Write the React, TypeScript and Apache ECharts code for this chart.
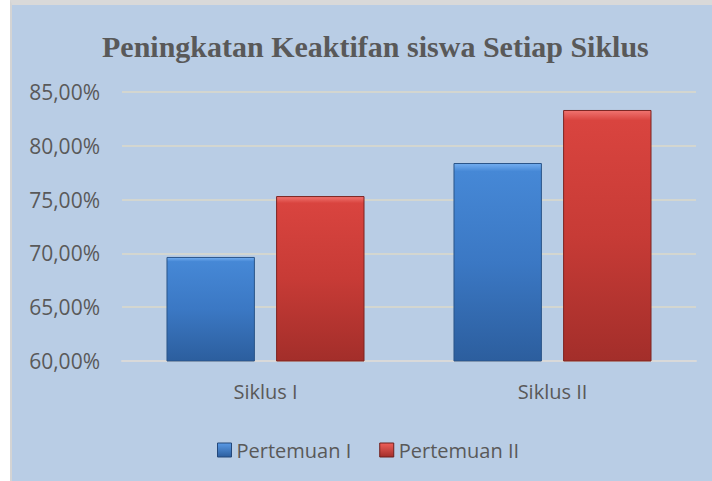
import React, { useEffect, useRef } from "react";
import * as echarts from "echarts";

const categories = ["Siklus I", "Siklus II"];
const seriesNames = ["Pertemuan I", "Pertemuan II"];
const pertemuanI = [69.67, 78.4];
const pertemuanII = [75.33, 83.33];
const titleText = "Peningkatan Keaktifan siswa Setiap Siklus";

const fmt = (v: number) => v.toFixed(2).replace(".", ",") + "%";

const blueGrad = new echarts.graphic.LinearGradient(0, 0, 0, 1, [
  { offset: 0, color: "#74aef0" },
  { offset: 0.04, color: "#4688d6" },
  { offset: 0.5, color: "#3b78c4" },
  { offset: 1, color: "#2c5e9e" },
]);
const redGrad = new echarts.graphic.LinearGradient(0, 0, 0, 1, [
  { offset: 0, color: "#f07470" },
  { offset: 0.04, color: "#d9443f" },
  { offset: 0.5, color: "#c73b36" },
  { offset: 1, color: "#a32e2a" },
]);
const blueIcon = new echarts.graphic.LinearGradient(0, 0, 0, 1, [
  { offset: 0, color: "#5a9ae6" },
  { offset: 1, color: "#2c5e9e" },
]);
const redIcon = new echarts.graphic.LinearGradient(0, 0, 0, 1, [
  { offset: 0, color: "#f0605a" },
  { offset: 1, color: "#a32e2a" },
]);

export default function App() {
  const ref = useRef<HTMLDivElement>(null);
  useEffect(() => {
    document.body.style.margin = "0";
    const chart = echarts.init(ref.current!, null, { renderer: "svg" });
    const font = "'Open Sans', sans-serif";
    chart.setOption({
      animation: false,
      title: {
        text: titleText,
        left: 85,
        top: 21,
        textStyle: {
          fontFamily: "'Liberation Serif', serif",
          fontWeight: "bold",
          fontSize: 30,
          color: "#595959",
        },
      },
      legend: {
        left: 200,
        top: 430,
        itemWidth: 14,
        itemHeight: 14,
        itemGap: 28,
        icon: "rect",
        textStyle: { fontFamily: font, fontSize: 20, color: "#595959" },
        data: [
          { name: seriesNames[0], itemStyle: { color: blueIcon, borderColor: "#24487a", borderWidth: 1 } },
          { name: seriesNames[1], itemStyle: { color: redIcon, borderColor: "#6e1f1c", borderWidth: 1 } },
        ],
      },
      grid: { left: 110, right: 16, top: 87, bottom: 120 },
      xAxis: {
        type: "category",
        data: categories,
        axisTick: { show: false },
        axisLine: { lineStyle: { color: "#d9d9d9", width: 2 } },
        axisLabel: { fontFamily: font, fontSize: 20, color: "#595959", margin: 20 },
      },
      yAxis: {
        type: "value",
        min: 60,
        max: 85,
        interval: 5,
        axisLine: { show: false },
        axisTick: { show: false },
        splitLine: { lineStyle: { color: "#dcd8c8", width: 1.5 } },
        axisLabel: {
          fontFamily: font,
          fontSize: 21,
          color: "#595959",
          margin: 22,
          formatter: (v: number) => fmt(v),
        },
      },
      series: [
        {
          name: seriesNames[0],
          type: "bar",
          data: pertemuanI,
          barGap: "24%",
          barCategoryGap: "31%",
          itemStyle: { color: blueGrad, borderColor: "#2a5488", borderWidth: 1 },
        },
        {
          name: seriesNames[1],
          type: "bar",
          data: pertemuanII,
          barGap: "24%",
          barCategoryGap: "31%",
          itemStyle: { color: redGrad, borderColor: "#7c2421", borderWidth: 1 },
        },
      ],
    });
    return () => chart.dispose();
  }, []);
  return (
    <div style={{ position: "relative", width: 712, height: 481, background: "#ffffff", overflow: "hidden" }}>
      <div
        style={{
          position: "absolute",
          left: 10,
          top: 0,
          width: 702,
          height: 481,
          boxSizing: "border-box",
          borderLeft: "2px solid #d4d4d4",
          borderTop: "5px solid #d9d9d9",
          background: "#b9cde5",
        }}
      >
        <div ref={ref} style={{ width: 700, height: 476 }} />
      </div>
    </div>
  );
}
